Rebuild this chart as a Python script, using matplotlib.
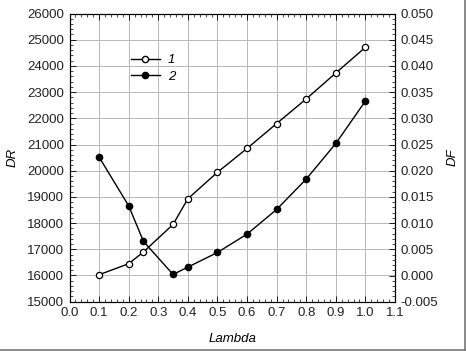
import numpy as np
import matplotlib.pyplot as plt
from matplotlib.ticker import MultipleLocator
from matplotlib.lines import Line2D

plt.rcParams['font.family'] = ['Liberation Sans', 'DejaVu Sans']
plt.rcParams['font.size'] = 9.5

# data
lam = [0.1, 0.2, 0.25, 0.35, 0.4, 0.5, 0.6, 0.7, 0.8, 0.9, 1.0]
dr = [16030, 16450, 16900, 17950, 18930, 19940, 20850, 21800, 22740, 23730, 24710]
df = [0.0226, 0.0133, 0.0065, 0.0002, 0.0016, 0.0044, 0.0079, 0.0126, 0.0184, 0.0252, 0.0333]

fig = plt.figure(figsize=(4.66, 3.51), dpi=100)
ax = fig.add_axes([69.5/466, 1 - 301.7/351, (395 - 69.5)/466, (301.7 - 13.5)/351])
ax2 = ax.twinx()

ax.plot(lam, dr, '-o', color='black', lw=1.0, ms=4.5, mfc='white', mec='black', mew=0.9, zorder=3)
ax2.plot(lam, df, '-o', color='black', lw=1.0, ms=4.5, mfc='black', mec='black', zorder=3)

ax.set_xlim(0.0, 1.1)
ax.set_ylim(15000, 26000)
ax2.set_ylim(-0.005, 0.050)

ax.xaxis.set_major_locator(MultipleLocator(0.1))
ax.xaxis.set_minor_locator(MultipleLocator(0.02))
ax.yaxis.set_major_locator(MultipleLocator(1000))
ax.yaxis.set_minor_locator(MultipleLocator(200))
ax2.yaxis.set_major_locator(MultipleLocator(0.005))
ax2.yaxis.set_minor_locator(MultipleLocator(0.001))
ax.xaxis.set_major_formatter(lambda v, p: f'{v:.1f}')
ax2.yaxis.set_major_formatter(lambda v, p: f'{v:.3f}')

ax.grid(True, color='#b8b8b8', lw=0.7)
ax.set_axisbelow(True)

ax.tick_params(which='both', direction='in', top=True, colors='black', labelcolor='#222222')
ax.tick_params(which='major', length=4, width=0.6, pad=4)
ax.tick_params(which='minor', length=2, width=0.5)
ax2.tick_params(which='both', direction='in', colors='black', labelcolor='#222222')
ax2.tick_params(which='major', length=4, width=0.6, pad=4)
ax2.tick_params(which='minor', length=2, width=0.5)
for a in (ax, ax2):
    for s in a.spines.values():
        s.set_linewidth(0.8)

ax.set_xlabel('Lambda', style='italic', labelpad=10)
ax.set_ylabel('DR', style='italic', labelpad=6)
ax2.set_ylabel('DF', style='italic', labelpad=6)

handles = [
    Line2D([], [], color='black', lw=1.0, marker='o', ms=4.5, mfc='white', mec='black'),
    Line2D([], [], color='black', lw=1.0, marker='o', ms=4.5, mfc='black', mec='black'),
]
leg = ax.legend(handles, ['1', '2'], loc='upper left', bbox_to_anchor=(0.152, 0.90),
                frameon=False, handlelength=2.2, handletextpad=0.6, labelspacing=0.3)
for t in leg.get_texts():
    t.set_style('italic')

# frame lines at right and bottom of the picture
fig.add_artist(Line2D([0, 1], [0.003, 0.003], color='#777777', lw=1.2, transform=fig.transFigure))
fig.add_artist(Line2D([0.998, 0.998], [0, 1], color='#777777', lw=1.2, transform=fig.transFigure))

fig.savefig('out.png', dpi=100)
